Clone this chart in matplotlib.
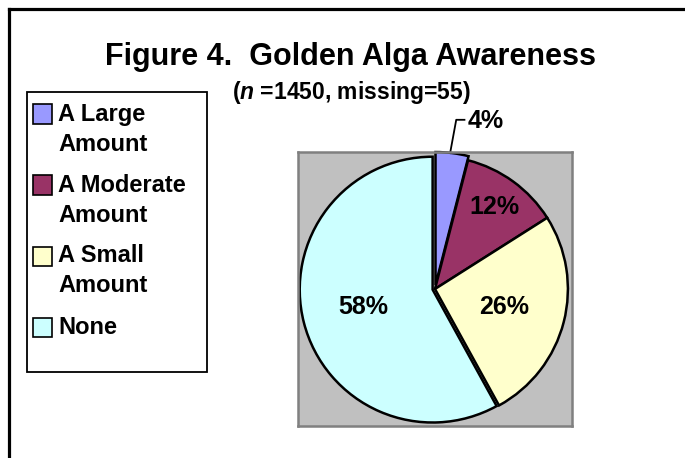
import matplotlib
matplotlib.use("Agg")
from matplotlib import pyplot as plt
from matplotlib.patches import Rectangle
from matplotlib.lines import Line2D
import numpy as np

# data
categories = ["A Large\nAmount", "A Moderate\nAmount", "A Small\nAmount", "None"]
percents = [4, 12, 26, 58]
colors = ["#9999FF", "#993366", "#FFFFCC", "#CCFFFF"]
title = "Figure 4.  Golden Alga Awareness"
subtitle = r"($\mathit{n}$ =1450, missing=55)"

plt.rcParams['font.family'] = ['Liberation Sans', 'DejaVu Sans']
plt.rcParams['font.weight'] = 'bold'
plt.rcParams['mathtext.fontset'] = 'custom'
plt.rcParams['mathtext.it'] = 'Liberation Sans:italic:bold'
plt.rcParams['mathtext.rm'] = 'Liberation Sans:bold'

W, H = 685, 458
fig = plt.figure(figsize=(W / 100, H / 100), dpi=100)
fig.patch.set_facecolor("white")


def fx(px):
    return px / W


def fy(py):
    return 1 - py / H


# outer chart frame (only left and top edges are inside the picture)
fig.add_artist(Line2D([fx(8.5), fx(8.5)], [0, fy(8.5)], color="black", lw=2.3,
                      transform=fig.transFigure))
fig.add_artist(Line2D([fx(8.5), 1], [fy(8.5), fy(8.5)], color="black", lw=2.3,
                      transform=fig.transFigure))

fig.text(fx(350), fy(57), title, ha="center", va="center", fontsize=22, fontweight="bold")
fig.text(fx(351), fy(93), subtitle, ha="center", va="center", fontsize=16.5, fontweight="bold")

# plot area: gray square
ax = fig.add_axes([fx(298), fy(426), fx(274), 274 / H])

explode = [0.03, 0, 0, 0.018]
wedges, texts, autotexts = ax.pie(
    percents, colors=colors, startangle=90, counterclock=False,
    explode=explode, radius=0.97, autopct="%.0f%%", pctdistance=0.54,
    wedgeprops=dict(edgecolor="black", linewidth=1.8), frame=True,
    textprops=dict(fontsize=18, fontweight="bold", color="black"),
)
ax.set_facecolor("#C0C0C0")
for s in ax.spines.values():
    s.set_color("#808080")
    s.set_linewidth(1.8)
ax.set_xticks([])
ax.set_yticks([])
ax.set_xlim(-1, 1)
ax.set_ylim(-1, 1)
ax.set_aspect("auto")

# 12% sits further out, 4% is placed outside with a leader line
for w, t in zip(wedges, autotexts):
    ang = np.deg2rad((w.theta1 + w.theta2) / 2)
    if t.get_text() == "12%":
        t.set_position((0.74 * np.cos(ang), 0.74 * np.sin(ang)))
small = wedges[0]
ang = np.deg2rad((small.theta1 + small.theta2) / 2)
autotexts[0].set_visible(False)
cx, cy = small.center
px, py = cx + 0.97 * np.cos(ang) - 0.015, cy + 0.97 * np.sin(ang)
ax.plot([px, 0.155, 0.215], [py, 1.235, 1.235], color="black", lw=1.3, clip_on=False)
ax.text(0.235, 1.225, autotexts[0].get_text(), ha="left", va="center",
        fontsize=18, fontweight="bold", clip_on=False)

# legend box drawn by hand so the swatch sits on the first line
fig.add_artist(Rectangle((fx(27), fy(372)), fx(180), 280 / H, transform=fig.transFigure,
                         facecolor="white", edgecolor="black", lw=1.3))
y = 114
line_h = 30
for lab, col in zip(categories, colors):
    fig.add_artist(Rectangle((fx(33), fy(y + 9.5)), fx(19), 19 / H, transform=fig.transFigure,
                             facecolor=col, edgecolor="black", lw=1.2))
    lines = lab.split("\n")
    for i, ln in enumerate(lines):
        fig.text(fx(58), fy(y + i * line_h), ln, ha="left", va="center",
                 fontsize=17, fontweight="bold")
    y += len(lines) * line_h + 11

fig.savefig("out.png", dpi=100)
